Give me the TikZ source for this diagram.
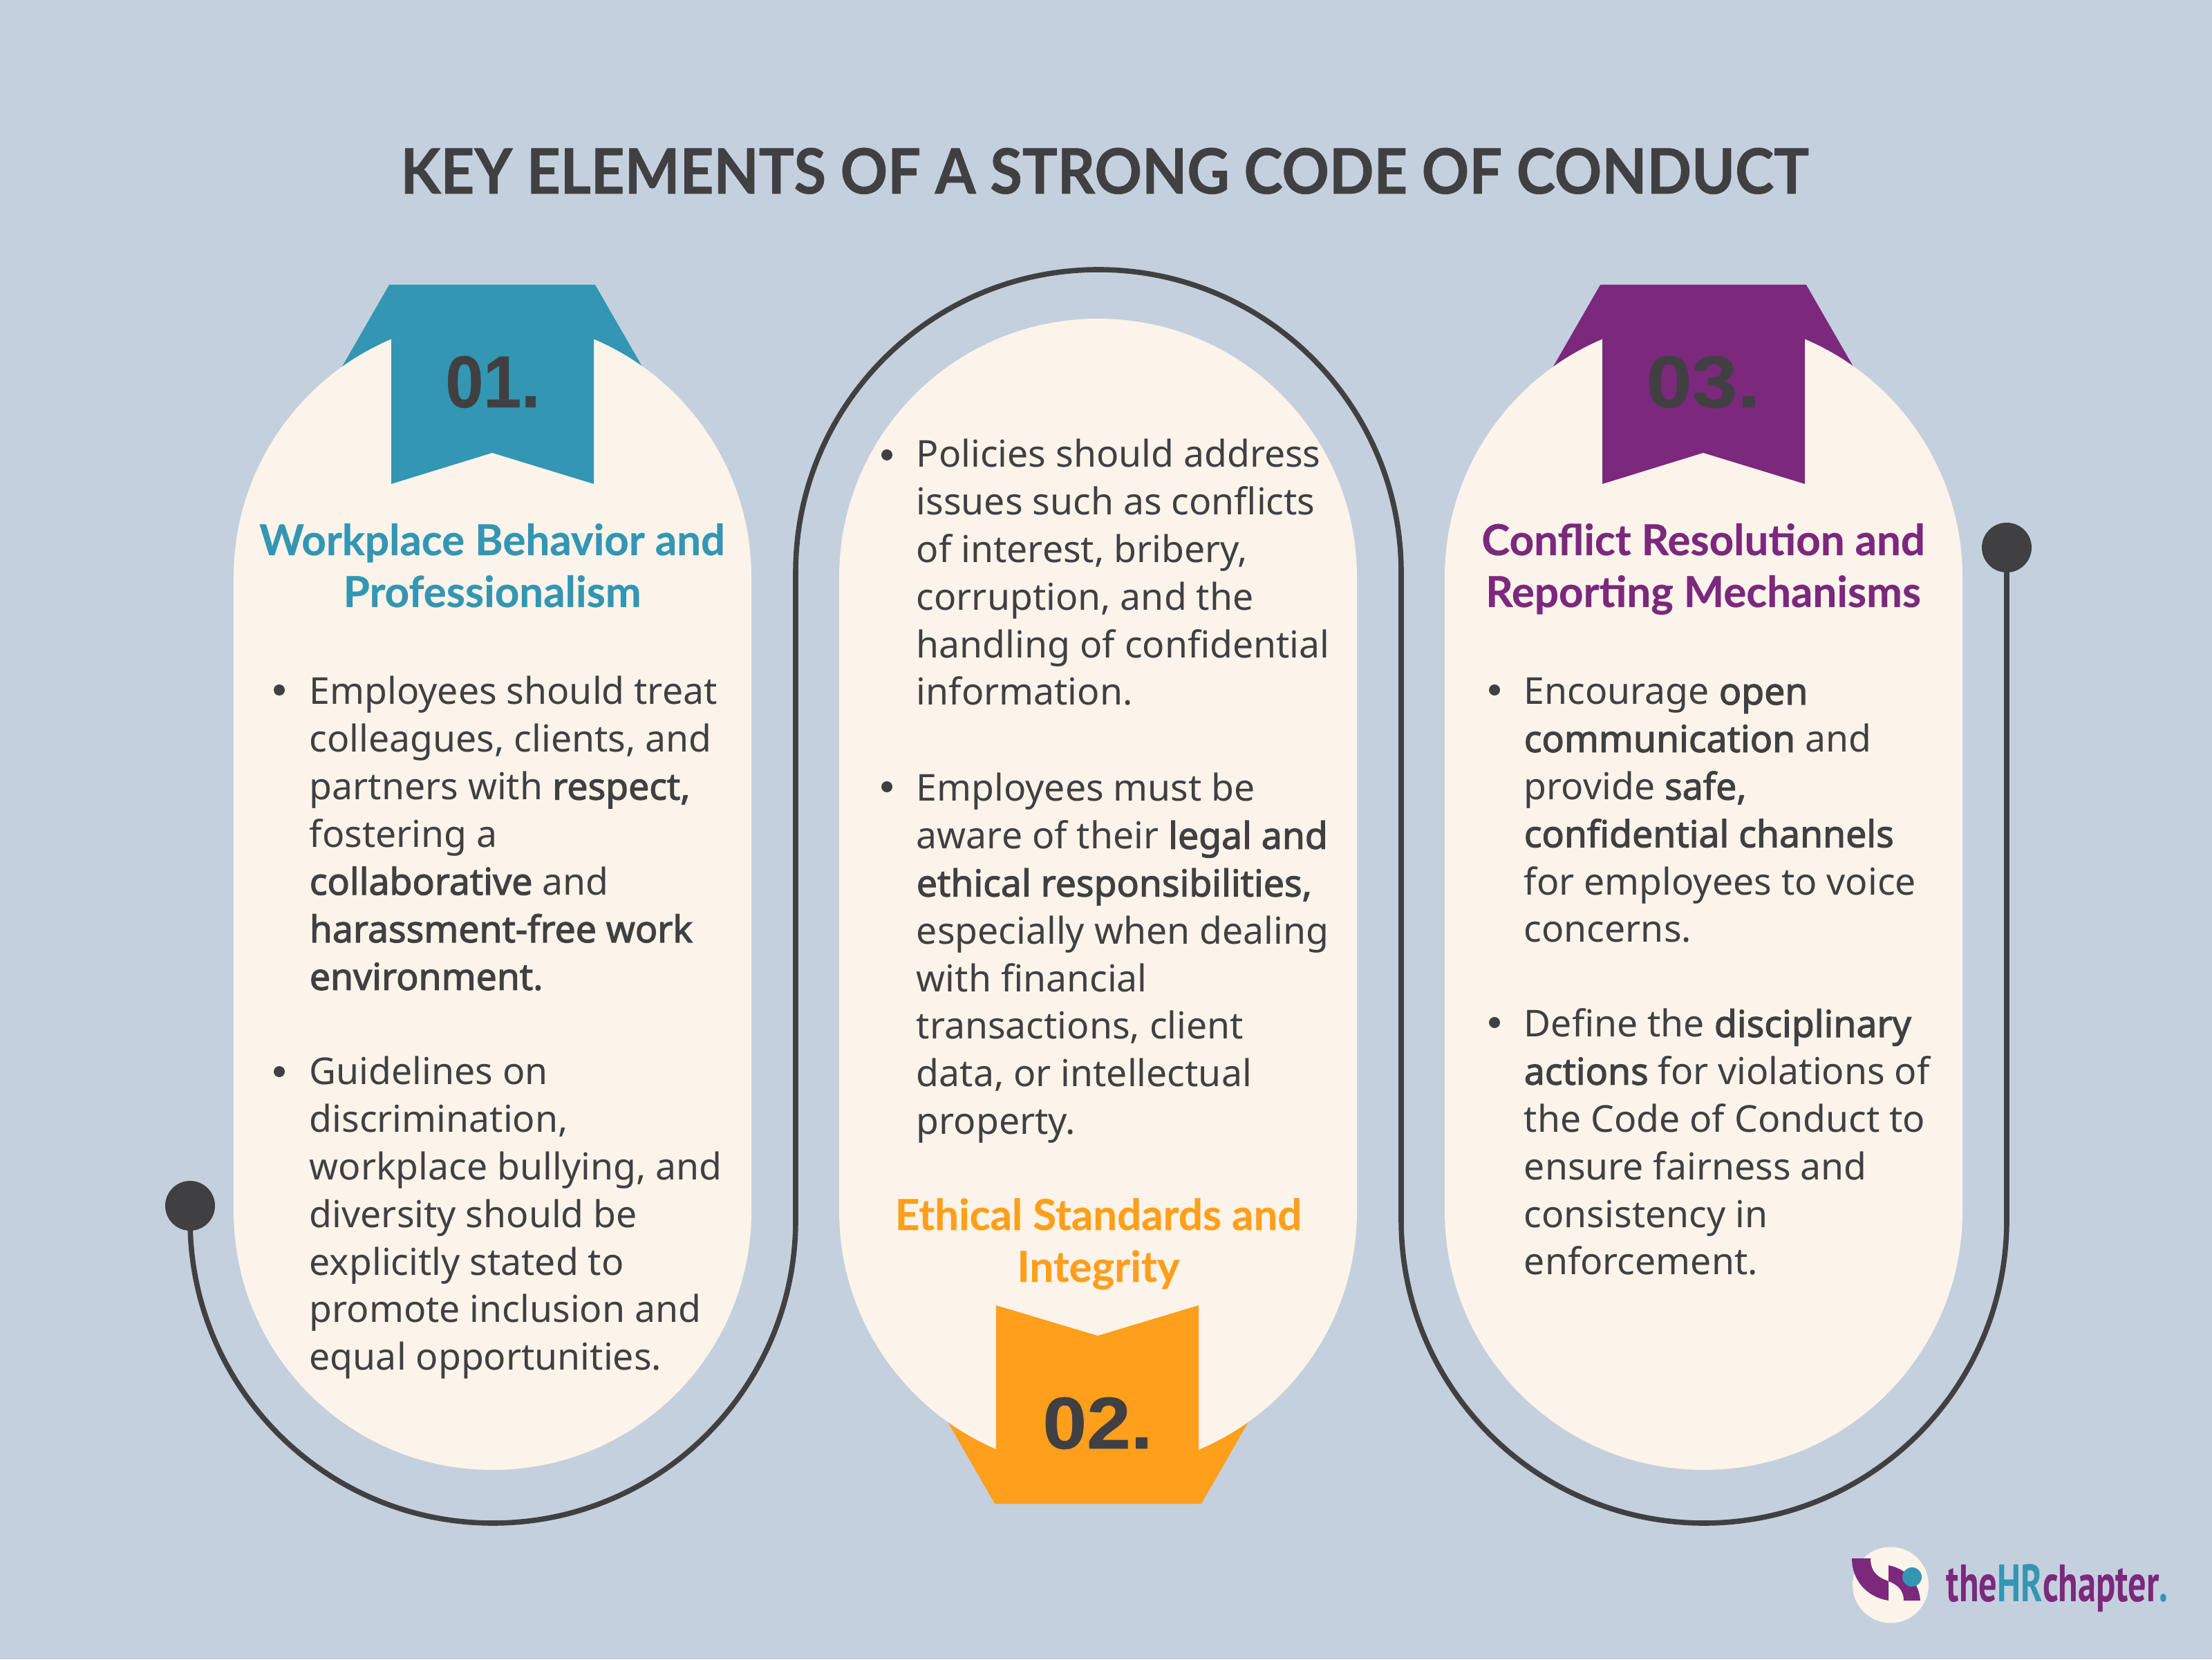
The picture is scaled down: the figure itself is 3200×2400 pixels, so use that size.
\documentclass[tikz,border=0pt]{standalone}
\usepackage{fontspec}
\setmainfont{Noto Sans}[BoldFont={Noto Sans},BoldFeatures={FakeBold=2.2}]
\newfontfamily\headfont{Lato}[BoldFeatures={FakeBold=0.4}]
\newfontfamily\titlefont{Lato}[BoldFeatures={FakeBold=0.8}]
\newfontfamily\numfont{Liberation Sans}[BoldFeatures={FakeBold=0.6}]
\newfontfamily\logofont{PT Sans}
\definecolor{bgc}{HTML}{C5D0DE}
\definecolor{creamc}{HTML}{FCF4EA}
\definecolor{tealc}{HTML}{3396B3}
\definecolor{orangec}{HTML}{FF9F1C}
\definecolor{purplec}{HTML}{7B287D}
\definecolor{darkc}{HTML}{404042}
\tikzset{
  pill/.style={fill=creamc,rectangle,rounded corners=93.5pt,minimum width=187.25pt,minimum height=416.25pt,inner sep=0pt},
  para/.style={anchor=north west,inner sep=0pt,align=left,text=darkc,font=\fontsize{13.38}{17.2}\selectfont},
  bulletdot/.style={circle,fill=darkc,minimum size=4pt,inner sep=0pt},
  heading/.style={anchor=base,inner sep=0pt,font=\headfont\bfseries\fontsize{15.45}{18.75}\selectfont},
  numlabel/.style={anchor=base,inner sep=0pt,text=darkc,font=\numfont\bfseries\fontsize{26.5}{30}\selectfont},
  loopline/.style={draw=darkc,line width=1.9pt},
  enddot/.style={circle,fill=darkc,minimum size=18pt,inner sep=0pt}
}
\newcommand{\parablock}[4]{\node[para] (#1) at (#2,#3) {\strut #4\strut};}
\begin{document}
\begin{tikzpicture}[x=.25pt,y=.25pt]
\useasboundingbox (0,0) rectangle (3200,2400);
\fill[bgc] (0,0) rectangle (3200,2400);
% wings behind pills
\fill[tealc] (563,1988) -- (861,1988) -- (975,1790) -- (449,1790) -- cycle;
\fill[purplec] (2315,1988) -- (2613,1988) -- (2727,1790) -- (2201,1790) -- cycle;
\fill[orangec] (1439,225) -- (1738,225) -- (1850,420) -- (1327,420) -- cycle;
% pills
\node[pill] (pill1) at (712.5,1106.5) {};
\node[pill] (pill2) at (1588.5,1106.5) {};
\node[pill] (pill3) at (2464.5,1106.5) {};
% ribbon fronts
\fill[tealc] (566,1988) -- (859,1988) -- (859,1700) -- (712,1745) -- (566,1700) -- cycle;
\fill[purplec] (2318,1988) -- (2611,1988) -- (2611,1700) -- (2464,1745) -- (2318,1700) -- cycle;
\fill[orangec] (1441,512) -- (1588,468) -- (1734,512) -- (1734,225) -- (1441,225) -- cycle;
% connector
\node[enddot] (dotA) at (275,656) {};
\node[enddot] (dotB) at (2903,1608) {};
\draw[loopline] (dotA.center) -- ++(0,-21) arc[start angle=180,end angle=360,radius=438]
  -- ++(0,937) arc[start angle=180,end angle=0,radius=438]
  -- ++(0,-937) arc[start angle=180,end angle=360,radius=438] -- (dotB.center);
% title
\node[anchor=base,inner sep=0pt,text=darkc,font=\titlefont\bfseries\fontsize{22.6}{26}\selectfont] (title) at (1598,2120) {\scalebox{0.938}[1]{KEY ELEMENTS OF A STRONG CODE OF CONDUCT}};
% numbers
\node[numlabel] (n1) at (713,1811) {\scalebox{0.93}[1]{01.}};
\node[numlabel] (n2) at (1588,305) {\scalebox{1.08}[1]{02.}};
\node[numlabel] (n3) at (2464,1811) {\scalebox{1.12}[1]{03.}};
% headings
\node[heading,text=tealc] (h1a) at (712,1597) {Workplace Behavior and};
\node[heading,text=tealc] (h1b) at (712,1522) {Professionalism};
\node[heading,text=orangec] (h2a) at (1589,621) {Ethical Standards and};
\node[heading,text=orangec] (h2b) at (1589,546) {Integrity};
\node[heading,text=purplec] (h3a) at (2464,1597) {Conflict Resolution and};
\node[heading,text=purplec] (h3b) at (2464,1522) {Reporting Mechanisms};
% pill 1 text
\node[bulletdot] (b1a) at (404,1402) {};
\parablock{t1a}{447}{1430}{Employees should treat\\colleagues, clients, and\\partners with \textbf{respect,}\\fostering a\\\textbf{collaborative} and\\\textbf{harassment-free work}\\\textbf{environment.}}
\node[bulletdot] (b1b) at (404,850) {};
\parablock{t1b}{447}{880}{Guidelines on\\discrimination,\\workplace bullying, and\\diversity should be\\explicitly stated to\\promote inclusion and\\equal opportunities.}
% pill 2 text
\node[bulletdot] (b2a) at (1283,1742) {};
\parablock{t2a}{1325}{1773}{Policies should address\\issues such as conflicts\\of interest, bribery,\\corruption, and the\\handling of confidential\\information.}
\node[bulletdot] (b2b) at (1283,1262) {};
\parablock{t2b}{1325}{1290}{Employees must be\\aware of their \textbf{legal and}\\\textbf{ethical responsibilities,}\\especially when dealing\\with financial\\transactions, client\\data, or intellectual\\property.}
% pill 3 text
\node[bulletdot] (b3a) at (2162,1402) {};
\parablock{t3a}{2204}{1430}{Encourage \textbf{open}\\\textbf{communication} and\\provide \textbf{safe,}\\\textbf{confidential channels}\\for employees to voice\\concerns.}
\node[bulletdot] (b3b) at (2162,921) {};
\parablock{t3b}{2204}{949}{Define the \textbf{disciplinary}\\\textbf{actions} for violations of\\the Code of Conduct to\\ensure fairness and\\consistency in\\enforcement.}
% logo
\node[circle,fill=creamc,minimum size=27.5pt,inner sep=0pt] (logoc) at (2735,107.5) {};
\fill[purplec] (2679,146) -- (2706,146) .. controls (2706,125) and (2718,118) .. (2732,113) -- (2732,85) .. controls (2700,90) and (2679,115) .. cycle;
\fill[purplec] (2732,136) .. controls (2760,130) and (2776,110) .. (2778,85) -- (2754,85) .. controls (2754,100) and (2745,108) .. (2732,113) -- cycle;
\node[circle,fill=tealc,minimum size=7pt,inner sep=0pt] (logod) at (2766,119) {};
\node[anchor=base west,inner sep=0pt,font=\logofont\bfseries\fontsize{19}{22}\selectfont] (logot) at (2815,84) {\scalebox{0.69}[1]{\textcolor{purplec}{the}\textcolor{tealc}{HR}\textcolor{purplec}{chapter}\textcolor{tealc}{.}}};
\end{tikzpicture}
\end{document}
